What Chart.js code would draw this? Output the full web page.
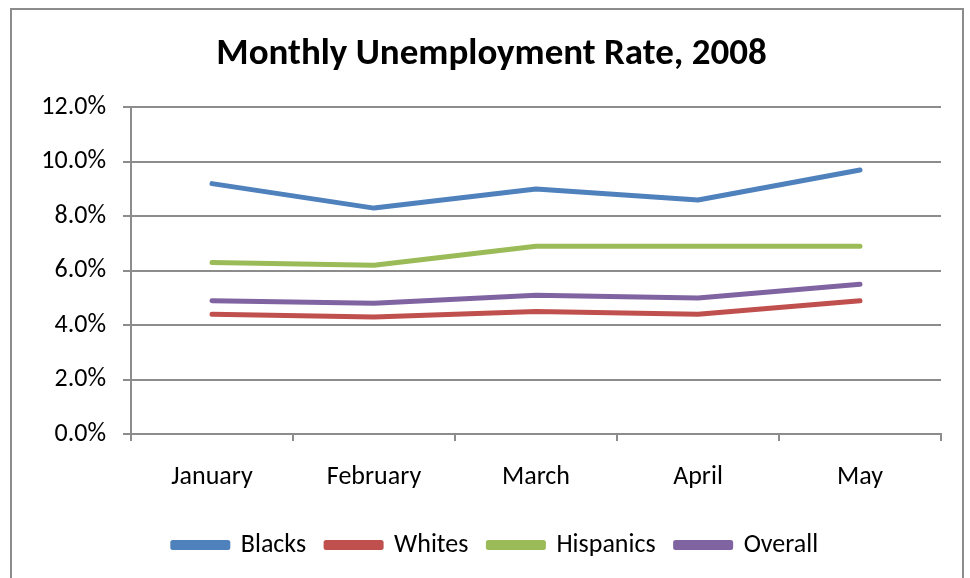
<!DOCTYPE html>
<html>
<head>
<meta charset="utf-8">
<script src="https://cdn.jsdelivr.net/npm/chart.js@4.4.1/dist/chart.umd.min.js"></script>
<style>
  html, body { margin: 0; padding: 0; background: #fff; }
  #wrap { position: relative; width: 970px; height: 578px; overflow: hidden; }
  #frame { position: absolute; left: 10px; top: 8px; width: 950px; height: 600px; border: 2px solid #8c8c8c; }
  #chart { position: absolute; left: 0; top: 0; }
</style>
</head>
<body>
<div id="wrap">
  <div id="frame"></div>
  <canvas id="chart" width="970" height="578"></canvas>
</div>
<script>
// Chart data
const months = ["January", "February", "March", "April", "May"];
const blacks = [9.2, 8.3, 9.0, 8.6, 9.7];
const whites = [4.4, 4.3, 4.5, 4.4, 4.9];
const hispanics = [6.3, 6.2, 6.9, 6.9, 6.9];
const overall = [4.9, 4.8, 5.1, 5.0, 5.5];
const yTicks = [0, 2, 4, 6, 8, 10, 12];

const FONT = "Carlito, Lato, 'DejaVu Sans', sans-serif";
const gridGray = '#8c8c8c';

function series(label, data, color) {
    return {
        label: label,
        data: data,
        borderColor: color,
        backgroundColor: color,
        borderWidth: 5,
        borderCapStyle: 'round',
        borderJoinStyle: 'round',
        pointRadius: 0,
        tension: 0,
        fill: false
    };
}

// nudge title and legend right so they sit centred in the whole frame
const boxShift = {
    id: 'boxShift',
    afterLayout(chart) {
        if (chart.legend) {
            chart.legend.left += 25;
            chart.legend.right += 25;
        }
        if (chart.titleBlock) {
            chart.titleBlock.left += 21;
            chart.titleBlock.right += 21;
        }
    }
};

new Chart(document.getElementById('chart').getContext('2d'), {
    type: 'line',
    data: {
        labels: months,
        datasets: [
            series('Blacks', blacks, '#4f81bd'),
            series('Whites', whites, '#c0504d'),
            series('Hispanics', hispanics, '#9bbb59'),
            series('Overall', overall, '#8064a2')
        ]
    },
    plugins: [boxShift],
    options: {
        responsive: false,
        animation: false,
        layout: { padding: { left: 0, right: 29, top: 0, bottom: 10 } },
        plugins: {
            title: {
                display: true,
                text: 'Monthly Unemployment Rate, 2008',
                color: '#000',
                font: { family: FONT, size: 37, weight: 'bold' },
                padding: { top: 33, bottom: 30 }
            },
            legend: {
                position: 'bottom',
                labels: {
                    color: '#000',
                    font: { family: FONT, size: 26 },
                    boxWidth: 55,
                    boxHeight: 5,
                    padding: 20
                }
            },
            tooltip: { enabled: false }
        },
        scales: {
            x: {
                offset: true,
                grid: {
                    offset: true,
                    drawOnChartArea: false,
                    drawTicks: true,
                    tickLength: 7,
                    color: gridGray,
                    lineWidth: 2
                },
                border: { color: gridGray, width: 2 },
                ticks: {
                    color: '#000',
                    font: { family: FONT, size: 26 },
                    padding: 21,
                    maxRotation: 0
                },
                afterFit: (scale) => { scale.height = 78; }
            },
            y: {
                min: 0,
                max: 12,
                afterBuildTicks: (scale) => { scale.ticks = yTicks.map(v => ({ value: v })); },
                grid: {
                    color: gridGray,
                    lineWidth: 2,
                    tickLength: 8
                },
                border: { color: gridGray, width: 2 },
                ticks: {
                    color: '#000',
                    font: { family: FONT, size: 26 },
                    padding: 17,
                    callback: (v) => v.toFixed(1) + '%'
                },
                afterFit: (scale) => { scale.width = 131; }
            }
        }
    }
});
</script>
</body>
</html>
